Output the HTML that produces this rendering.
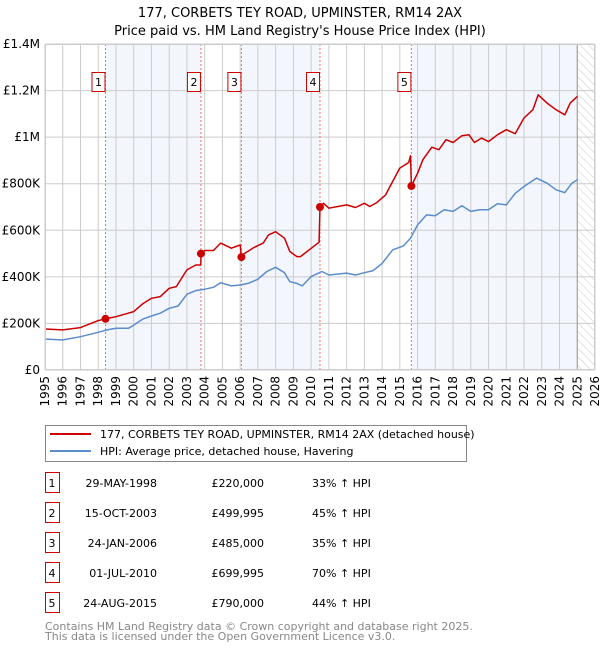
<!DOCTYPE html>
<html><head><meta charset="utf-8"><style>
body{margin:0;background:#fff}
svg{display:block;font-family:"DejaVu Sans","Liberation Sans",sans-serif}
</style></head><body>
<svg id="c" width="600" height="650" viewBox="0 0 600 650">
<defs><pattern id="hatch" width="6" height="6" patternUnits="userSpaceOnUse" patternTransform="rotate(-45)"><line x1="0" y1="0" x2="0" y2="6" stroke="#ccc" stroke-width="1"/></pattern></defs>
<text x="300" y="17" text-anchor="middle" font-size="13">177, CORBETS TEY ROAD, UPMINSTER, RM14 2AX</text>
<text x="300" y="35" text-anchor="middle" font-size="13">Price paid vs. HM Land Registry's House Price Index (HPI)</text>
<g id="plot"></g>
<g>
<rect x="45.5" y="425.5" width="421" height="36" fill="#fff" stroke="#888"/>
<line x1="50" y1="434" x2="91" y2="434" stroke="#cc0000" stroke-width="2"/>
<text x="100" y="438" font-size="11">177, CORBETS TEY ROAD, UPMINSTER, RM14 2AX (detached house)</text>
<line x1="50" y1="451" x2="91" y2="451" stroke="#5b8ccc" stroke-width="2"/>
<text x="100" y="455" font-size="11">HPI: Average price, detached house, Havering</text>
</g>
<g id="table"></g>
<text x="45" y="630" font-size="11" fill="#888">Contains HM Land Registry data © Crown copyright and database right 2025.</text>
<text x="45" y="640" font-size="11" fill="#888">This data is licensed under the Open Government Licence v3.0.</text>
</svg>
<script>
const yTicks=[0,200000,400000,600000,800000,1000000,1200000,1400000];
const yTickLabels=["£0","£200K","£400K","£600K","£800K","£1M","£1.2M","£1.4M"];
const years=[1995,1996,1997,1998,1999,2000,2001,2002,2003,2004,2005,2006,2007,2008,2009,2010,2011,2012,2013,2014,2015,2016,2017,2018,2019,2020,2021,2022,2023,2024,2025,2026];
const saleYears=[1998.41,2003.79,2006.07,2010.5,2015.65];
const salePrices=[220000,499995,485000,699995,790000];
const saleDates=["29-MAY-1998","15-OCT-2003","24-JAN-2006","01-JUL-2010","24-AUG-2015"];
const salePriceLabels=["£220,000","£499,995","£485,000","£699,995","£790,000"];
const saleHpi=["33% ↑ HPI","45% ↑ HPI","35% ↑ HPI","70% ↑ HPI","44% ↑ HPI"];
const redT=[1995,1996,1997,1998,1998.41,1999,2000,2000.5,2001,2001.5,2002,2002.4,2003,2003.5,2003.78,2003.79,2004,2004.5,2004.9,2005.5,2006.0,2006.07,2006.2,2006.8,2007.3,2007.6,2008,2008.5,2008.8,2009.2,2009.4,2010.45,2010.5,2010.7,2011,2012,2012.5,2013,2013.3,2013.7,2014.2,2014.6,2015,2015.5,2015.6,2015.65,2016,2016.3,2016.8,2017.2,2017.6,2018,2018.5,2018.9,2019.2,2019.6,2020,2020.5,2021,2021.5,2022,2022.5,2022.8,2023.3,2023.8,2024.3,2024.6,2025];
const redV=[176,172,182,212,220,229,251,284,308,315,351,358,430,451,451,500,513,513,545,523,537,485,498,527,545,580,594,566,509,487,487,549,700,716,695,709,698,716,702,719,752,810,867,891,920,790,845,903,957,946,989,977,1006,1010,977,996,981,1010,1032,1015,1082,1118,1182,1146,1118,1096,1146,1175];
const blueT=[1995,1996,1997,1998,1998.5,1999,1999.7,2000,2000.5,2001,2001.5,2002,2002.5,2003,2003.5,2004,2004.5,2004.9,2005.5,2006,2006.5,2007,2007.5,2008,2008.5,2008.8,2009.2,2009.5,2010,2010.6,2011,2012,2012.5,2013,2013.5,2014,2014.6,2015.2,2015.6,2016,2016.5,2017,2017.5,2018,2018.5,2019,2019.5,2020,2020.5,2021,2021.5,2022,2022.7,2023.3,2023.8,2024.3,2024.7,2025];
const blueV=[133,129,143,162,172,179,179,193,218,232,244,265,275,325,341,347,355,375,361,365,373,390,423,441,418,379,372,361,401,423,408,416,408,418,427,458,516,533,566,623,666,662,688,681,705,681,688,688,714,709,759,788,824,802,774,762,802,817];
const L=45,R=595,T=44,B=370,X0=1995,X1=2026,YM=1400000,DATA_END=2025.0;
const NS="http://www.w3.org/2000/svg";
const x=t=>L+(t-X0)/(X1-X0)*(R-L);
const y=v=>B-v/YM*(B-T);
function mk(tag,attrs,parent){const e=document.createElementNS(NS,tag);for(const k in attrs)e.setAttribute(k,attrs[k]);parent.appendChild(e);return e;}
const plot=document.getElementById('plot');
const bandStarts=[saleYears[0],saleYears[2],saleYears[4]];
const bandEnds=[saleYears[1],saleYears[3],DATA_END];
bandStarts.forEach((s,i)=>{const r=mk('rect',{x:x(s),y:T,width:x(bandEnds[i])-x(s),height:B-T,fill:'#f3f6fd'},plot);

});
const h=mk('rect',{x:x(DATA_END),y:T,width:R-x(DATA_END),height:B-T,fill:'url(#hatch)'},plot);


years.forEach(yr=>{const l=mk('line',{x1:x(yr),x2:x(yr),y1:T,y2:B,stroke:'#ccc','stroke-width':1},plot);


const tx=x(yr)+4,ty=B+6;
const t=mk('text',{x:tx,y:ty,'font-size':12,'text-anchor':'end',transform:'rotate(-90 '+tx+' '+ty+')'},plot);t.textContent=yr;

});
yTicks.forEach((v,i)=>{const l=mk('line',{x1:L,x2:R,y1:y(v),y2:y(v),stroke:'#ccc','stroke-width':1},plot);


const t=mk('text',{x:L-5,y:y(v)+4,'font-size':12,'text-anchor':'end'},plot);t.textContent=yTickLabels[i];

});
const dl=mk('line',{x1:x(DATA_END),x2:x(DATA_END),y1:T,y2:B,stroke:'#999','stroke-width':1},plot);


saleYears.forEach((s,i)=>{const l=mk('line',{x1:x(s),x2:x(s),y1:T,y2:B,stroke:'#f07070','stroke-width':1,'stroke-dasharray':'2,2'},plot);


const r=mk('rect',{x:x(s)-13.5,y:72.5,width:13,height:19,fill:'#fff',stroke:'#cc0000'},plot);


const t=mk('text',{x:x(s)-7,y:86,'font-size':11,'text-anchor':'middle'},plot);t.textContent=i+1;

});
function line(ts,vs,col,name){const d=ts.map((t,i)=>(i?'L':'M')+x(t).toFixed(1)+','+y(vs[i]*1000).toFixed(1)).join('');
const p=mk('path',{d:d,fill:'none',stroke:col,'stroke-width':1.5,'stroke-linejoin':'round'},plot);

}
line(blueT,blueV,'#5b8ccc','hpi-line');
line(redT,redV,'#cc0000','price-paid-line');
saleYears.forEach((s,i)=>{const c=mk('circle',{cx:x(s),cy:y(salePrices[i]),r:4,fill:'#cc0000'},plot);

});
mk('rect',{x:L+.5,y:T+.5,width:R-L-1,height:B-T-1,fill:'none',stroke:'#ccc'},plot);
const tb=document.getElementById('table');
saleDates.forEach((d,i)=>{const cy=483+i*30;
const r=mk('rect',{x:45.5,y:cy-10.5,width:14,height:20,fill:'#fff',stroke:'#cc0000'},tb);


const vals=[[52,'middle',String(i+1)],[157,'end',d],[264,'end',salePriceLabels[i]],[312,'start',saleHpi[i]]];
const nm=['table-row-number','table-row-date','table-row-price','table-row-hpi'];
vals.forEach((v,j)=>{const t=mk('text',{x:v[0],y:cy+4,'font-size':11,'text-anchor':v[1]},tb);t.textContent=v[2];

});});
</script>
</body></html>
